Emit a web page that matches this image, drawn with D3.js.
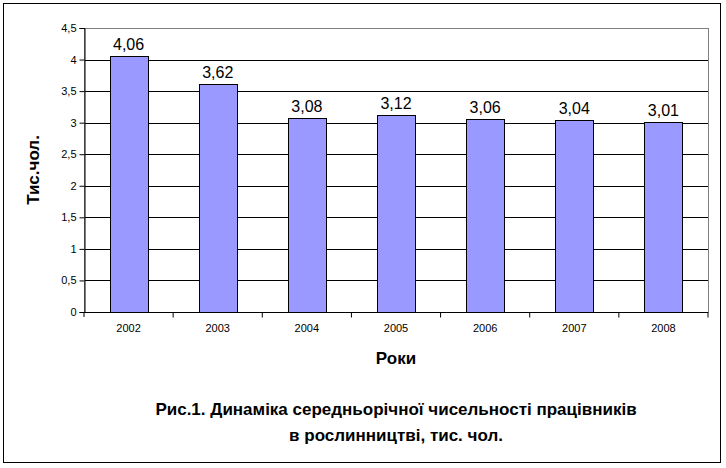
<!DOCTYPE html>
<html><head><meta charset="utf-8">
<script src="https://cdn.jsdelivr.net/npm/d3@7"></script>
<style>body{margin:0;background:#fff;font-family:"Liberation Sans",Arial,sans-serif}</style>
</head><body>
<svg id="chart" width="726" height="468"></svg>
<script>
var years = ["2002", "2003", "2004", "2005", "2006", "2007", "2008"];
var values = [4.06, 3.62, 3.08, 3.12, 3.06, 3.04, 3.01];
var ticks = [0, 0.5, 1, 1.5, 2, 2.5, 3, 3.5, 4, 4.5];

var svg = d3.select("#chart");
var fmt = function(v) { return String(v).replace(".", ","); };

svg.append("rect").attr("x", 3.5).attr("y", 3.5).attr("width", 717).attr("height", 459)
  .attr("fill", "#fff").attr("stroke", "#000");

var pLeft = 84, pRight = 708, pTop = 28, pBottom = 312;
var x = d3.scaleBand().domain(years).range([pLeft, pRight]);
var y = d3.scaleLinear().domain([0, 4.5]).range([pBottom, pTop]);

svg.append("g").selectAll("line").data(ticks.slice(1)).enter().append("line")
  .attr("x1", pLeft).attr("x2", pRight)
  .attr("y1", function(d) { return Math.round(y(d)) + 0.5; })
  .attr("y2", function(d) { return Math.round(y(d)) + 0.5; })
  .attr("stroke", "#000");

svg.append("rect").attr("x", pLeft + 0.5).attr("y", pTop + 0.5)
  .attr("width", pRight - pLeft).attr("height", pBottom - pTop)
  .attr("fill", "none").attr("stroke", "#808080");

var bw = 38;
svg.selectAll(".bar").data(values).enter().append("rect")
  .attr("class", "bar")
  .attr("x", function(d, i) { return Math.round(x(years[i]) + x.bandwidth() / 2 - bw / 2) + 0.5; })
  .attr("y", function(d) { return Math.round(y(d)) + 0.5; })
  .attr("width", bw)
  .attr("height", function(d) { return Math.round(pBottom - y(d)); })
  .attr("fill", "#9999ff").attr("stroke", "#000");

svg.selectAll(".lbl").data(values).enter().append("text")
  .attr("x", function(d, i) { return x(years[i]) + x.bandwidth() / 2; })
  .attr("y", function(d) { return y(d) - 6; })
  .attr("text-anchor", "middle").attr("font-size", 16)
  .text(fmt);

// axes
var yAxis = svg.append("g").attr("transform", "translate(" + (pLeft + 0.5) + ",0)")
  .call(d3.axisLeft(y).tickValues(ticks).tickSize(5).tickFormat(fmt));
var xAxis = svg.append("g").attr("transform", "translate(0," + (pBottom + 0.5) + ")")
  .call(d3.axisBottom(x).tickSize(0).tickPadding(12));
xAxis.selectAll(".tick").append("line").attr("x1", x.bandwidth() / 2).attr("x2", x.bandwidth() / 2)
  .attr("y1", 0).attr("y2", 5).attr("stroke", "#000");
svg.append("line").attr("x1", pLeft).attr("x2", pLeft).attr("y1", pBottom).attr("y2", pBottom + 5).attr("stroke", "#000");
[yAxis, xAxis].forEach(function(a) {
  a.select(".domain").attr("stroke", "#000");
  a.selectAll("text").attr("font-size", 11).attr("font-family", "Liberation Sans, Arial, sans-serif").attr("fill", "#000");
});
xAxis.select(".domain").attr("d", "M" + pLeft + ",0H" + pRight);

svg.append("text").attr("transform", "translate(39,170) rotate(-90)")
  .attr("text-anchor", "middle").attr("font-size", 17).attr("font-weight", "bold").text("Тис.чол.");
svg.append("text").attr("x", 396).attr("y", 364).attr("text-anchor", "middle")
  .attr("font-size", 17).attr("font-weight", "bold").text("Роки");
svg.append("text").attr("x", 396).attr("y", 415).attr("text-anchor", "middle")
  .attr("font-size", 17).attr("font-weight", "bold").text("Рис.1. Динаміка середньорічної чисельності працівників");
svg.append("text").attr("x", 396).attr("y", 441).attr("text-anchor", "middle")
  .attr("font-size", 17).attr("font-weight", "bold").text("в рослинництві, тис. чол.");
</script>
</body></html>
